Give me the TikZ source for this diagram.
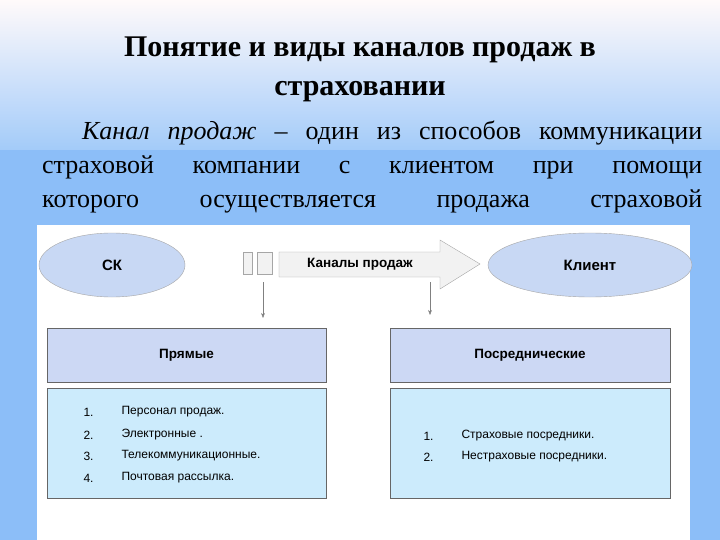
\documentclass[tikz,border=0pt]{standalone}
\usepackage{fontspec}
\setmainfont{Liberation Serif}
\newfontfamily\dsans{Liberation Sans}
\usetikzlibrary{shapes.geometric,arrows.meta}
\definecolor{bgblue}{HTML}{8CBEF8}
\definecolor{ell}{HTML}{C8D8F4}
\definecolor{hdr}{HTML}{CCD8F4}
\definecolor{lst}{HTML}{CCEBFC}
\tikzset{
  ellnode/.style={ellipse,draw=gray!70,fill=ell,font=\dsans\bfseries\fontsize{15}{17}\selectfont},
  hdrbox/.style={draw=gray!80!black,fill=hdr,line width=0.8pt,font=\dsans\bfseries\fontsize{13.5}{15}\selectfont},
  lstbox/.style={draw=gray!80!black,fill=lst,line width=0.8pt},
  item/.style={font=\dsans\fontsize{12}{14}\selectfont,anchor=west},
  dn/.style={draw=gray,-{Stealth[length=5pt]}},
}
\begin{document}
\begin{tikzpicture}[x=1pt,y=-1pt]
\useasboundingbox (0,0) rectangle (720,540);
\shade[top color=white!92!pink, bottom color=bgblue!80] (0,0) rectangle (720,150);
\fill[bgblue] (0,150) rectangle (720,540);
\node[font=\bfseries\fontsize{30}{32}\selectfont] (t1) at (360,50) {Понятие и виды каналов продаж в};
\node[font=\bfseries\fontsize{30}{32}\selectfont] (t2) at (360,92) {страховании};
\node[anchor=west,font=\fontsize{26}{28}\selectfont,inner sep=0] (p1) at (82,133) {\hbox to 620pt{\textit{Канал}\hfill\textit{продаж}\hfill–\hfill один\hfill из\hfill способов\hfill коммуникации}};
\node[anchor=west,font=\fontsize{26}{28}\selectfont,inner sep=0] (p2) at (42,167) {\hbox to 660pt{страховой\hfill компании\hfill с\hfill клиентом\hfill при\hfill помощи}};
\node[anchor=west,font=\fontsize{26}{28}\selectfont,inner sep=0] (p3) at (42,201) {\hbox to 660pt{которого\hfill осуществляется\hfill продажа\hfill страховой}};
\fill[white] (37,225) rectangle (690,540);
\node[ellnode,minimum width=146pt,minimum height=64pt] (ck) at (112,265) {СК};
\node[ellnode,minimum width=204pt,minimum height=64pt] (kl) at (590,265) {Клиент};
\node[draw=gray!70,fill=gray!10,minimum width=9pt,minimum height=22pt,inner sep=0] (r1) at (248,263) {};
\node[draw=gray!70,fill=gray!10,minimum width=15pt,minimum height=22pt,inner sep=0] (r2) at (265,263) {};
\draw[gray!70,fill=gray!10] (279,252) -- (440,252) -- (440,240) -- (480,264) -- (440,289) -- (440,277) -- (279,277) -- cycle;
\node[font=\dsans\bfseries\fontsize{13.5}{15}\selectfont] (al) at (360,264) {Каналы продаж};
\coordinate (a1) at (263,282); \coordinate (b1) at (263,318);
\coordinate (a2) at (430,282); \coordinate (b2) at (430,315);
\draw[dn] (a1) -- (b1);
\draw[dn] (a2) -- (b2);
\node[hdrbox,minimum width=279pt,minimum height=54pt] (h1) at (186.5,355) {Прямые};
\node[hdrbox,minimum width=280pt,minimum height=54pt] (h2) at (530,355) {Посреднические};
\node[lstbox,minimum width=279pt,minimum height=110pt] (l1) at (186.5,443) {};
\node[lstbox,minimum width=280pt,minimum height=110pt] (l2) at (530,443) {};
\foreach \n/\t/\y in {1/Персонал продаж./412,2/Электронные ./435,3/Телекоммуникационные./456,4/Почтовая рассылка./478}{
  \node[item] (n\n) at (80,\y) {\n.};
  \node[item] (i\n) at (118,\y) {\t};
}
\foreach \n/\t/\y in {1/Страховые посредники./436,2/Нестраховые посредники./457}{
  \node[item] (m\n) at (420,\y) {\n.};
  \node[item] (j\n) at (458,\y) {\t};
}
\end{tikzpicture}
\end{document}
